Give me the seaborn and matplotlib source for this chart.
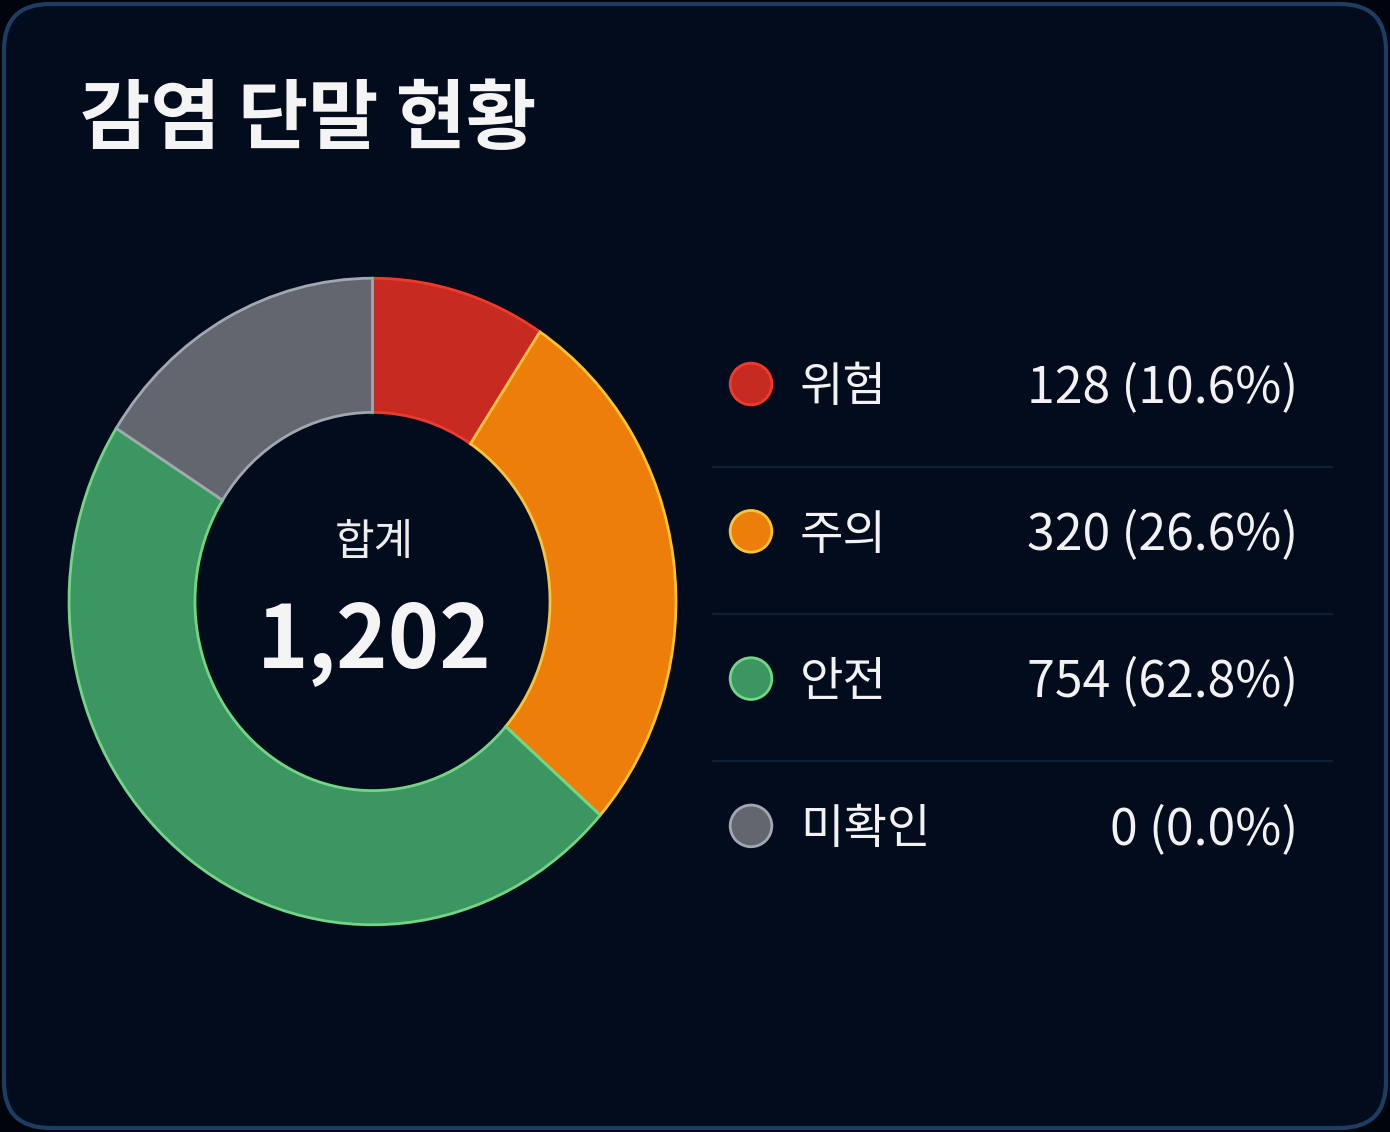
import seaborn as sns
import matplotlib.pyplot as plt
import pandas as pd
from matplotlib.patches import FancyBboxPatch

# data
categories = ['위험', '주의', '안전', '미확인']
counts = [128, 320, 754, 0]
percents = [10.6, 26.6, 62.8, 0.0]
# ring arc shares as they appear in the picture (clockwise from top)
arc_share = [9.3, 27.2, 47.5, 16.0]
total_label = '1,202'
title = '감염 단말 현황'

fill_colors = ['#C62A20', '#EE7E0A', '#3B9661', '#62666E']
edge_colors = ['#F03A2C', '#F8C43A', '#72D684', '#A3A8B0']

sns.set_theme(style="dark")
plt.rcParams['font.family'] = ['Noto Sans CJK KR', 'DejaVu Sans']

W, H = 1390, 1132
fig = plt.figure(figsize=(W / 100, H / 100), dpi=100)
fig.patch.set_facecolor('#00050D')

# overlay axes in pixel coords
bg = fig.add_axes([0, 0, 1, 1])
bg.set_xlim(0, W)
bg.set_ylim(H, 0)
bg.axis('off')
card = FancyBboxPatch((4, 4), W - 8, H - 8, boxstyle="round,pad=0,rounding_size=46",
                      facecolor='#020C1C', edgecolor='#1D3D63', linewidth=3)
bg.add_patch(card)

bg.text(80, 120, title, color='#F4F4F4', fontsize=55, fontweight='bold',
        ha='left', va='center')

# donut
ax = fig.add_axes([66 / W, 1 - 928 / H, 613 / W, 653 / H])
ax.set_facecolor('none')
wedges, _ = ax.pie(arc_share, colors=fill_colors, startangle=90, counterclock=False,
                   wedgeprops=dict(width=0.415))
for w, ec in zip(wedges, edge_colors):
    w.set_edgecolor(ec)
    w.set_linewidth(2)
ax.set_aspect('auto')
ax.set_xlim(-1.01, 1.01)
ax.set_ylim(-1.01, 1.01)
ax.axis('off')

bg.text(374, 543, '합계', color='#EDEDED', fontsize=31, ha='center', va='center')
bg.text(374, 642, total_label, color='#F4F4F4', fontsize=63, fontweight='bold',
        ha='center', va='center')

# legend table
rows = pd.DataFrame({
    'cat': categories,
    'label': [f'{c} ({p:.1f}%)' for c, p in zip(counts, percents)],
    'color': fill_colors,
    'edge': edge_colors,
})
row_y0, row_step = 384, 147.3
rows['y'] = [row_y0 + i * row_step for i in range(len(rows))]
rows['x'] = 751

sns.scatterplot(data=rows, x='x', y='y', hue='cat', palette=fill_colors, s=900,
                edgecolor=edge_colors, linewidth=2, legend=False, ax=bg, zorder=5)

for _, r in rows.iterrows():
    bg.text(800, r['y'] + 4, r['cat'], color='#F2F2F2', fontsize=34, ha='left', va='center')
    bg.text(1298, r['y'] + 4, r['label'], color='#F2F2F2', fontsize=36, ha='right', va='center')

for i in range(len(rows) - 1):
    ysep = row_y0 + (i + 0.5) * row_step + 9
    bg.plot([713, 1332], [ysep, ysep], color='#0E2036', linewidth=1.6)

bg.set_xlim(0, W)
bg.set_ylim(H, 0)

plt.savefig('out.png', dpi=100, facecolor=fig.get_facecolor())
